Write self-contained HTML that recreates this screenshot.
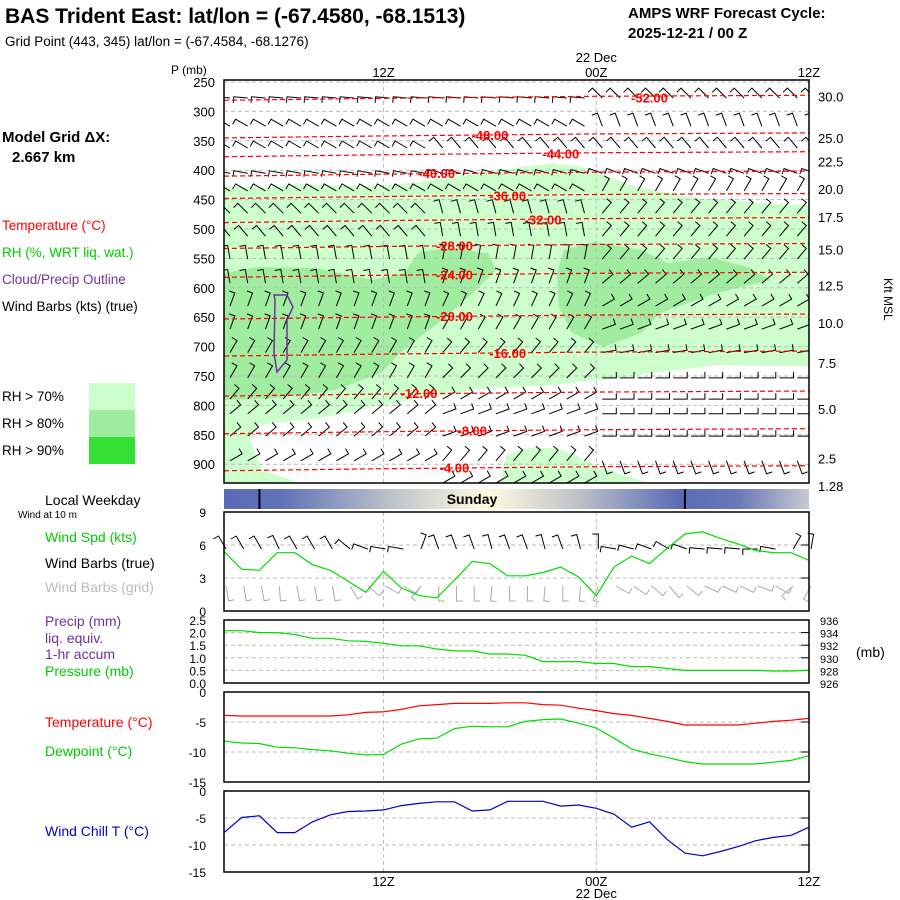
<!DOCTYPE html>
<html><head><meta charset="utf-8">
<style>
body{margin:0;background:#fff;}
svg{display:block;font-family:"Liberation Sans",sans-serif;}
</style></head>
<body>
<svg id="chart" width="900" height="900" viewBox="0 0 900 900" xmlns="http://www.w3.org/2000/svg">
<rect x="0" y="0" width="900" height="900" fill="#fff"/>
<text x="5" y="23" font-size="21" font-weight="bold">BAS Trident East:  lat/lon = (-67.4580, -68.1513)</text>
<text x="5" y="46" font-size="13.5">Grid Point (443, 345) lat/lon = (-67.4584, -68.1276)</text>
<text x="628" y="18" font-size="15" font-weight="bold">AMPS WRF Forecast Cycle:</text>
<text x="628" y="38" font-size="15" font-weight="bold">2025-12-21 / 00  Z</text>
<text x="2" y="142" font-size="15" font-weight="bold">Model Grid ΔX:</text>
<text x="12" y="162" font-size="15" font-weight="bold">2.667 km</text>
<g font-size="13.5">
<text x="2" y="230" fill="#f00">Temperature (°C)</text>
<text x="2" y="257" fill="#0c0">RH (%, WRT liq. wat.)</text>
<text x="2" y="284" fill="#7030a0">Cloud/Precip Outline</text>
<text x="2" y="311" fill="#000">Wind Barbs (kts) (true)</text>
<text x="2" y="401">RH &gt; 70%</text>
<text x="2" y="428">RH &gt; 80%</text>
<text x="2" y="455">RH &gt; 90%</text>
</g>
<rect x="89" y="383" width="46" height="27" fill="#ccffcc"/>
<rect x="89" y="410" width="46" height="27" fill="#a0eda0"/>
<rect x="89" y="437" width="46" height="27" fill="#33e033"/>
<text x="45" y="505" font-size="14">Local Weekday</text>
<text x="18" y="518" font-size="10">Wind at 10 m</text>
<g font-size="14">
<text x="45" y="542" fill="#0c0">Wind Spd (kts)</text>
<text x="45" y="568">Wind Barbs (true)</text>
<text x="45" y="592" fill="#bbb">Wind Barbs (grid)</text>
<text x="45" y="626" fill="#7030a0">Precip (mm)</text>
<text x="45" y="643" fill="#7030a0">liq. equiv.</text>
<text x="45" y="659" fill="#7030a0">1-hr accum</text>
<text x="45" y="676" fill="#0c0">Pressure (mb)</text>
<text x="45" y="727" fill="#f00">Temperature (°C)</text>
<text x="45" y="756" fill="#0c0">Dewpoint (°C)</text>
<text x="45" y="836" fill="#00c">Wind Chill T (°C)</text>
</g>
<text x="171" y="74" font-size="12">P (mb)</text>
<text x="884" y="278" font-size="12" transform="rotate(90 884 278)">Kft MSL</text>
<text x="856" y="657" font-size="14">(mb)</text>
<defs>
<linearGradient id="day" x1="0" x2="1" y1="0" y2="0">
<stop offset="0" stop-color="#5a6bb5"/><stop offset="0.1" stop-color="#6272b8"/>
<stop offset="0.3" stop-color="#c3c8cc"/><stop offset="0.45" stop-color="#fffbe0"/>
<stop offset="0.6" stop-color="#c0c4c8"/><stop offset="0.78" stop-color="#5a6bb5"/>
<stop offset="0.88" stop-color="#6a78b8"/><stop offset="1" stop-color="#c8cad0"/>
</linearGradient>
<clipPath id="mainClip"><rect x="224" y="80" width="585" height="403"/></clipPath>
</defs>
<g id="main"></g>
</svg>
<script>
// ---------- data ----------
const hours = [-9,-8,-7,-6,-5,-4,-3,-2,-1,0,1,2,3,4,5,6,7,8,9,10,11,12,13,14,15,16,17,18,19,20,21,22,23,24];
const windSpd = [5.4,3.8,3.7,5.3,5.3,4.2,3.7,2.7,1.7,3.6,2.1,1.4,1.2,2.8,4.5,4.3,3.2,3.2,3.5,4.0,3.1,1.4,4.0,5.0,4.3,5.7,7.0,7.2,6.6,6.1,5.5,5.3,5.3,4.6];
const pressure = [934.3,934.3,934.0,934.0,933.7,933.1,933.1,932.7,932.6,932.3,931.9,931.9,931.4,931.1,931.1,930.6,930.6,930.4,929.4,929.4,929.4,929.1,929.1,928.6,928.6,928.3,928.0,928.0,928.0,928.0,928.0,927.9,927.9,928.0];
const temp = [-3.9,-4,-4,-4,-4,-4,-4,-3.8,-3.4,-3.3,-2.9,-2.3,-2.1,-1.9,-1.9,-1.9,-1.8,-1.8,-2.1,-2.2,-2.7,-3.1,-3.6,-3.9,-4.4,-4.9,-5.5,-5.5,-5.5,-5.5,-5.2,-4.9,-4.7,-4.4];
const dewpt = [-8.2,-8.5,-8.6,-9.2,-9.3,-9.6,-9.8,-10.2,-10.5,-10.4,-8.7,-7.8,-7.7,-6.1,-5.7,-5.8,-5.8,-4.9,-4.6,-4.5,-5.2,-6.0,-7.7,-9.5,-10.3,-10.9,-11.6,-12,-12,-12,-12,-11.7,-11.4,-10.6];
const windChill = [-7.7,-4.9,-4.6,-7.7,-7.7,-5.7,-4.4,-3.8,-3.7,-3.5,-2.7,-2.3,-2.0,-2.0,-3.7,-3.5,-1.9,-1.9,-1.9,-2.8,-2.6,-3.2,-4.3,-6.7,-5.7,-9.0,-11.5,-12,-11.2,-10.3,-9.2,-8.6,-8.2,-6.7];
const sfcDir = [330,330,330,335,330,330,330,310,290,280,280,20,340,340,340,345,340,340,345,340,345,0,280,285,290,300,290,275,275,275,270,280,30,10];
const pLevels = [250,300,350,400,450,500,550,600,650,700,750,800,850,900];
const kftTicks = ["30.0","25.0","22.5","20.0","17.5","15.0","12.5","10.0","7.5","5.0","2.5","1.28"];
const kftPress = [275,345,385,432,480,535,596,660,728,806,890,937];
const contourLevels = [-52,-48,-44,-40,-36,-32,-28,-24,-20,-16,-12,-8,-4];
const contourPress = [276,340,372,405,443,484,528,577,648,711,779,843,906];
const contourLabelHour = [15,6,10,3,7,9,4,4,4,7,2,5,4];
const barbPress = [267,315,352,395,425,463,502,541,582,621,660,700,743,779,804,842,884,922];
const barbDirL = [275,300,300,280,300,315,320,350,350,20,20,30,30,40,50,50,60,120];
const barbDirM = [275,300,320,285,300,345,350,10,20,25,30,40,45,60,70,70,40,60];
const barbDirR = [315,340,320,290,30,40,40,40,50,60,70,80,90,90,90,90,160,150];
const dayTickHours = [-7,17];

// ---------- scales ----------
const X0=224, X1=809;
const xs = h => X0 + (h+9)*(X1-X0)/33;
const P0=250, PY0=82, PYper=29.4/50;
const ps = p => PY0 + (p-P0)*PYper;
const NS='http://www.w3.org/2000/svg';
const root=document.getElementById('main');
function mk(tag, attrs, parent){const e=document.createElementNS(NS,tag);for(const k in attrs)e.setAttribute(k,attrs[k]);(parent||root).appendChild(e);return e;}
function txt(x,y,s,attrs,parent){const e=mk('text',Object.assign({x:x,y:y,'font-size':12},attrs||{}),parent);e.textContent=s;return e;}

// ---------- main panel ----------
const mainG=mk('g',{});


const rh70=mk('path',{d:'M224,186 L260,188 L300,184 L340,186 L380,186 L420,182 L460,176 L500,170 L530,166 L552,163 L580,166 L605,176 L640,188 L700,198 L760,203 L809,205 L809,366 L760,366 L717,365 L660,372 L603,380 L540,386 L488,388 L420,398 L373,407 L320,418 L258,425 L250,440 L262,470 L300,483 L224,483 Z',fill:'#ccffcc'},mainG);


const rh70b=mk('path',{d:'M506,455 Q540,440 575,455 Q600,470 640,480 L650,483 L500,483 Z',fill:'#ccffcc'},mainG);


const rh80a=mk('path',{d:'M224,273 L258,267 L316,268 L373,280 L404,273 L419,252 L450,248 L488,253 L496,270 L473,293 L442,320 L400,353 L381,373 L335,390 L277,398 L224,400 Z',fill:'#a0eda0'},mainG);


const rh80b=mk('path',{d:'M557,273 L564,250 L595,242 L641,250 L668,263 L710,257 L748,267 L771,280 L717,293 L660,313 L641,333 L603,347 L572,333 L559,307 Z',fill:'#a0eda0'},mainG);


pLevels.forEach(p=>{
  const l=mk('line',{x1:X0,x2:X1,y1:ps(p),y2:ps(p),stroke:'#bbb','stroke-dasharray':'4,3'},mainG);
  
  
  const t=txt(215,ps(p)+5,String(p),{'text-anchor':'end','font-size':13},mainG);
  
  
});
[0,12].forEach(h=>{
  const l=mk('line',{x1:xs(h),x2:xs(h),y1:80,y2:483,stroke:'#bbb','stroke-dasharray':'4,3'},mainG);
  
  
});
kftTicks.forEach((k,i)=>{
  const t=txt(818,ps(kftPress[i])+5,k,{'font-size':13},mainG);
  
  
});
function barb(x,y,dir,len,tick,color,parent){
  const a=dir*Math.PI/180, sx=Math.sin(a), sy=-Math.cos(a);
  const ex=x+sx*len, ey=y+sy*len;
  const tx=ex+sy*tick, ty=ey-sx*tick;
  const p=mk('path',{d:`M${x.toFixed(1)},${y.toFixed(1)} L${ex.toFixed(1)},${ey.toFixed(1)} L${tx.toFixed(1)},${ty.toFixed(1)}`,stroke:color,fill:'none','stroke-width':1},parent);
  
  
}
const barbG=mk('g',{'clip-path':'url(#mainClip)'},mainG);


barbPress.forEach((p,i)=>{
  hours.forEach(h=>{
    const d = h<3?barbDirL[i]:(h<12?barbDirM[i]:barbDirR[i]);
    barb(xs(h)+6,ps(p)+6,d,14,6,'#000',barbG);
  });
});
const contG=mk('g',{'clip-path':'url(#mainClip)'},mainG);


contourLevels.forEach((c,i)=>{
  const y=ps(contourPress[i]);
  const l=mk('path',{d:`M${X0},${y+3} L${xs(0)},${y+1} L${xs(12)},${y-1} L${X1},${y-2}`,stroke:'#f00',fill:'none','stroke-width':1.2,'stroke-dasharray':'5,3'},contG);
  
  
  const lx=xs(contourLabelHour[i]);
  const t=txt(lx,y+5,c.toFixed(2),{'font-size':13,'font-weight':'bold',fill:'#f00','text-anchor':'middle'},contG);
  
  
});
const cl=mk('path',{d:'M274,295 L287,295 L293,307 L287,320 L287,360 L277,372 L274,353 L275,300 Z',fill:'none',stroke:'#7030a0','stroke-width':1.5},mainG);


const fr=mk('rect',{x:X0,y:80,width:X1-X0,height:403,fill:'none',stroke:'#000','stroke-width':1.5},mainG);


[[0,'12Z'],[12,'00Z'],[24,'12Z']].forEach(([h,s])=>{
  const t=txt(xs(h),77,s,{'text-anchor':'middle','font-size':13});
  
  
});
const td=txt(xs(12),62,'22 Dec',{'text-anchor':'middle','font-size':13});



// ---------- day bar ----------
const dayBar=mk('rect',{x:X0,y:489,width:X1-X0,height:20,fill:'url(#day)'});


dayTickHours.forEach(h=>{
  const l=mk('line',{x1:xs(h),x2:xs(h),y1:489,y2:509,stroke:'#000','stroke-width':2});
  
  
});
const sun=txt(472,504,'Sunday',{'text-anchor':'middle','font-size':14,'font-weight':'bold'});



// ---------- small panels ----------
function panel(name,top,bot,vmin,vmax,ticks,tickLabels,grids){
  const g=mk('g',{});
  
  
  const ys=v=>bot-(v-vmin)/(vmax-vmin)*(bot-top);
  grids.forEach(v=>{
    const l=mk('line',{x1:X0,x2:X1,y1:ys(v),y2:ys(v),stroke:'#bbb','stroke-dasharray':'4,3'},g);
    
    
    const r=mk('line',{x1:X1-8,x2:X1,y1:ys(v),y2:ys(v),stroke:'#000'},g);
    
    
  });
  [0,12].forEach(h=>{
    const l=mk('line',{x1:xs(h),x2:xs(h),y1:top,y2:bot,stroke:'#bbb','stroke-dasharray':'4,3'},g);
    
    
  });
  ticks.forEach((v,i)=>{
    const t=txt(206,ys(v)+5,tickLabels[i],{'text-anchor':'end','font-size':12},g);
    
    
  });
  return {g,ys,top,bot};
}
function series(P,vals,color,name){
  const d=vals.map((v,i)=>(i?'L':'M')+xs(hours[i]).toFixed(1)+','+P.ys(v).toFixed(1)).join(' ');
  const p=mk('path',{d:d,fill:'none',stroke:color,'stroke-width':1.2},P.g);
  
  
}
function frame(P){
  const r=mk('rect',{x:X0,y:P.top,width:X1-X0,height:P.bot-P.top,fill:'none',stroke:'#000','stroke-width':1.5},P.g);
  
  
}
const W=panel('wind-panel',512,611,0,9,[0,3,6,9],['0','3','6','9'],[3,6]);
hours.forEach((h,i)=>{
  barb(xs(h)+2,549,sfcDir[i],15,6,'#000',W.g);
  barb(xs(h)+2,586,(sfcDir[i]+200)%360,15,6,'#aaa',W.g);
});
series(W,windSpd,'#0d0','wind-speed-line');
frame(W);
const PP=panel('pressure-panel',620,683,0,2.5,[0,0.5,1,1.5,2,2.5],['0.0','0.5','1.0','1.5','2.0','2.5'],[0.5,1,1.5,2]);
const pTicks=[926,928,930,932,934,936];
pTicks.forEach(v=>{
  const t=txt(820,PP.ys((v-926)/4)+5,String(v),{'font-size':11},PP.g);
  
  
});
series(PP,pressure.map(v=>(v-926)/4),'#0d0','pressure-line');
frame(PP);
const T=panel('temperature-panel',692,782,-15,0,[0,-5,-10,-15],['0','-5','-10','-15'],[-5,-10]);
series(T,temp,'#f00','temperature-line');
series(T,dewpt,'#0d0','dewpoint-line');
frame(T);
const C=panel('wind-chill-panel',791,872,-15,0,[0,-5,-10,-15],['0','-5','-10','-15'],[-5,-10]);
series(C,windChill,'#00c','wind-chill-line');
frame(C);
[[0,'12Z'],[12,'00Z'],[24,'12Z']].forEach(([h,s])=>{
  const t=txt(xs(h),886,s,{'text-anchor':'middle','font-size':13});
  
  
});
const bd=txt(xs(12),898,'22 Dec',{'text-anchor':'middle','font-size':13});


</script>
</body></html>
